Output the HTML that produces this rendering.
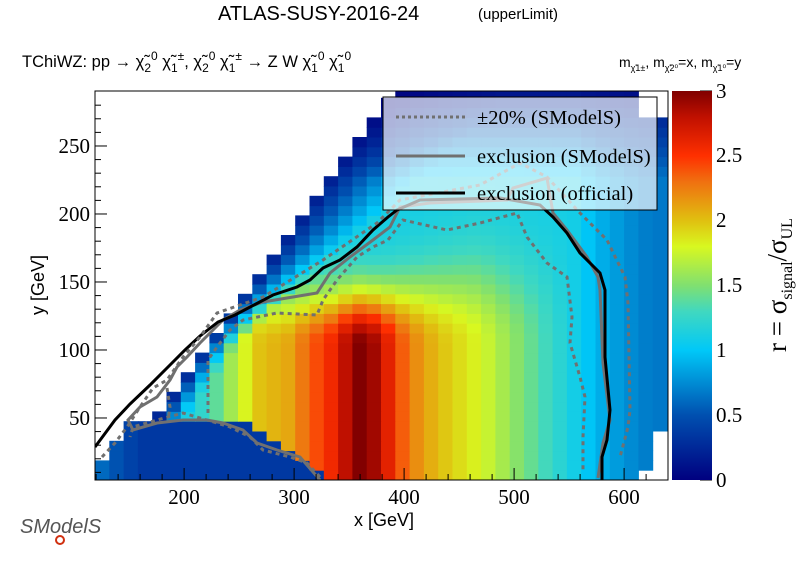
<!DOCTYPE html>
<html><head><meta charset="utf-8"><style>
html,body{margin:0;padding:0;background:#fff;}
svg text{font-family:"Liberation Sans",sans-serif;}
svg .s, svg .s text{font-family:"Liberation Serif",serif;}
</style></head><body>
<svg id="g" width="796" height="572" xmlns="http://www.w3.org/2000/svg">
<defs><linearGradient id="cb" x1="0" y1="1" x2="0" y2="0">
<stop offset="0" stop-color="#000080"/><stop offset="0.167" stop-color="#0050b0"/>
<stop offset="0.333" stop-color="#00c8f8"/><stop offset="0.433" stop-color="#40d8c0"/>
<stop offset="0.5" stop-color="#80e070"/><stop offset="0.6" stop-color="#d8f820"/>
<stop offset="0.667" stop-color="#e0c010"/><stop offset="0.767" stop-color="#f07010"/>
<stop offset="0.833" stop-color="#ff3000"/><stop offset="0.933" stop-color="#c01000"/>
<stop offset="1" stop-color="#800000"/></linearGradient>
<clipPath id="cp"><rect x="95" y="91" width="573" height="389"/></clipPath></defs>
<g id="cells" clip-path="url(#cp)"></g>
<g id="cont" clip-path="url(#cp)" fill="none"></g>
<rect x="383" y="97" width="274" height="113" fill="rgba(255,255,255,0.68)" stroke="#000" stroke-width="1"/>
<line x1="396" y1="117" x2="465" y2="117" stroke="#707070" stroke-width="3" stroke-dasharray="3,3"/>
<line x1="396" y1="156" x2="465" y2="156" stroke="#707070" stroke-width="3"/>
<line x1="396" y1="193" x2="465" y2="193" stroke="#000" stroke-width="3"/>
<text class="s" x="477" y="124" font-size="20.5">±20% (SModelS)</text>
<text class="s" x="477" y="163" font-size="20.5">exclusion (SModelS)</text>
<text class="s" x="477" y="200" font-size="20.5">exclusion (official)</text>
<rect x="95" y="91" width="573" height="389" fill="none" stroke="#000"/>
<g id="ticks" stroke="#000"></g>
<rect x="672" y="91" width="40" height="389" fill="url(#cb)"/>
<g class="s" font-size="21">
<text x="184" y="504" text-anchor="middle">200</text><text x="294" y="504" text-anchor="middle">300</text>
<text x="404" y="504" text-anchor="middle">400</text><text x="514" y="504" text-anchor="middle">500</text>
<text x="624" y="504" text-anchor="middle">600</text>
<text x="90" y="425" text-anchor="end">50</text><text x="90" y="357" text-anchor="end">100</text>
<text x="90" y="289" text-anchor="end">150</text><text x="90" y="221" text-anchor="end">200</text>
<text x="90" y="153" text-anchor="end">250</text>
<text x="716" y="487">0</text><text x="716" y="422">0.5</text><text x="716" y="357">1</text>
<text x="716" y="292">1.5</text><text x="716" y="227">2</text><text x="716" y="162">2.5</text>
<text x="716" y="98">3</text>
</g>
<text x="384" y="526" font-size="18" text-anchor="middle">x [GeV]</text>
<text x="0" y="0" font-size="18" text-anchor="middle" transform="translate(44,285) rotate(-90)">y [GeV]</text>
<text class="s" transform="translate(786,285) rotate(-90)" font-size="27" text-anchor="middle">r = σ<tspan font-size="16" dy="6">signal</tspan><tspan dy="-6">/σ</tspan><tspan font-size="16" dy="6">UL</tspan></text>
<text x="218" y="20" font-size="20">ATLAS-SUSY-2016-24</text>
<text x="478" y="19" font-size="15">(upperLimit)</text>
<text x="22" y="67" font-size="16.5">TChiWZ: pp  → χ̃<tspan font-size="12" dy="5">2</tspan><tspan font-size="12" dy="-12">0</tspan><tspan dy="7"> χ̃</tspan><tspan font-size="12" dy="5">1</tspan><tspan font-size="12" dy="-12">±</tspan><tspan dy="7">, χ̃</tspan><tspan font-size="12" dy="5">2</tspan><tspan font-size="12" dy="-12">0</tspan><tspan dy="7"> χ̃</tspan><tspan font-size="12" dy="5">1</tspan><tspan font-size="12" dy="-12">±</tspan><tspan dy="7"> → Z W  χ̃</tspan><tspan font-size="12" dy="5">1</tspan><tspan font-size="12" dy="-12">0</tspan><tspan dy="7"> χ̃</tspan><tspan font-size="12" dy="5">1</tspan><tspan font-size="12" dy="-12">0</tspan></text>
<text x="619" y="67" font-size="14">m<tspan font-size="9" dy="4">χ̃1±</tspan><tspan dy="-4">, m</tspan><tspan font-size="9" dy="4">χ̃2⁰</tspan><tspan dy="-4">=x, m</tspan><tspan font-size="9" dy="4">χ̃1⁰</tspan><tspan dy="-4">=y</tspan></text>
<text x="20" y="533" font-size="20" fill="#555" font-style="italic">SModelS</text>
<circle cx="60" cy="540" r="4" fill="none" stroke="#d03010" stroke-width="2"/>
</svg>
<script>
var NS="http://www.w3.org/2000/svg";
function el(p,t,a){var e=document.createElementNS(NS,t);for(var k in a)e.setAttribute(k,a[k]);p.appendChild(e);return e;}
var stops=[[0,[0,0,128]],[0.5,[0,80,176]],[1,[0,200,248]],[1.3,[64,216,192]],[1.5,[128,224,112]],[1.8,[216,248,32]],[2,[224,192,16]],[2.3,[240,112,16]],[2.5,[255,48,0]],[2.8,[192,16,0]],[3,[128,0,0]]];
function col(v){v=Math.max(0,Math.min(3,v));for(var i=1;i<stops.length;i++){if(v<=stops[i][0]){var a=stops[i-1],b=stops[i],t=(v-a[0])/(b[0]-a[0]);return "rgb("+[0,1,2].map(function(j){return Math.round(a[1][j]+t*(b[1][j]-a[1][j]))}).join(",")+")";}}return "rgb(128,0,0)";}
var prof=[[95,0.9],[180,1.05],[210,1.3],[240,1.75],[260,2.0],[290,2.1],[305,2.3],[330,2.55],[345,2.8],[360,3.0],[380,2.85],[395,2.45],[420,2.15],[440,2.0],[480,1.8],[500,1.65],[520,1.5],[560,1.2],[600,0.9],[640,0.7],[670,0.65]];
function gp(x){for(var i=1;i<prof.length;i++){if(x<=prof[i][0]){var a=prof[i-1],b=prof[i],t=(x-a[0])/(b[0]-a[0]);return a[1]+t*(b[1]-a[1]);}}return 0.65;}
function xsf(cy){return (cy<420)?323-(cy-185)*0.72:(cy<440?124:(cy<460?110:95));}
function val(px,py){
 var g0=gp(px), b=Math.min(g0,1.1);
 var dy=345-py, L=55+Math.max(0,Math.min(1,(px-380)/100))*30;
 var h=dy<=0?1:Math.exp(-Math.pow(dy/L,2));
 var r=b+(g0-b)*h;
 if(py<180) r*=Math.max(0.1,1-(180-py)/100);
 var dd=px-xsf(py), sc=28+Math.max(0,340-py)*0.4, f=Math.max(0,Math.min(1,dd/sc));
 r*=0.1+0.9*Math.pow(f,0.8);
 var bt=(px<250)?420:(px<300?420+(px-250)*0.7:455+(px-300)*1.2);
 if(py>bt&&px<325){r=0.35+(px<140?0.3*(140-px)/45:0);}
 return r;}
var g=document.getElementById("cells");
var cw=14.3,ch=9.8;
for(var py=480;py>91-ch;py-=ch){
 for(var px=95;px<668;px+=cw){
  var cx=px+cw/2,cy=py-ch/2;
  if(cx<xsf(cy))continue;
  if(cy<118&&cx>640)continue;
  if(cy>430&&cx>655)continue;
  if(cy>467&&cx>640)continue;
  el(g,"rect",{x:px.toFixed(1),y:(py-ch).toFixed(1),width:(cw+0.5).toFixed(1),height:(ch+0.5).toFixed(1),fill:col(val(cx,cy))});
 }}
var c=document.getElementById("cont");
function pl(pts,st){var a={points:pts,stroke:st.c,"stroke-width":st.w};if(st.d)a["stroke-dasharray"]=st.d;el(c,"polyline",a);}
var G={c:"#707070",w:3},B={c:"#000",w:3},D={c:"#707070",w:3,d:"4,4"};
pl("320,480 300,457 277,450 257,443 243,430 223,423 207,420 183,420 157,423 133,430 128,420 140,407 157,397 170,380 177,367 187,357 200,343 223,320 240,310 263,302 317,293 330,273 350,257 373,240 390,227 400,207 430,203 507,200 513,188 547,178 553,213 567,230 587,257 598,277 600,290 603,363 610,420 603,443 598,478",G);
pl("95,447 115,420 130,404 150,385 170,365 185,350 200,336 218,322 235,315 273,295 297,287 310,280 323,268 340,260 357,247 373,230 388,217 397,210 420,200 500,198 540,205 553,217 567,233 580,253 600,273 605,290 605,357 610,410 607,440 602,457 602,480",B);
pl("102,457 115,443 127,427 140,407 153,388 167,380 183,357 200,337 217,313 263,297 323,260 377,223 400,200 480,185 520,163 547,177 580,213 607,240 625,277 628,303 630,410 628,427 620,457",D);
pl("320,477 307,463 290,457 263,450 250,437 230,427 207,420 183,413 157,420 133,427 130,437",D);
pl("208,413 208,360 217,347 230,330 243,320 277,313 317,315 323,300 337,280 357,257 373,247 388,240 403,220 447,230 480,223 517,213 527,237 547,263 567,277 572,317 570,343 580,377 585,397 583,437 583,473",D);
pl("167,388 170,407 168,420",D);
var t=document.getElementById("ticks");
for(var v=120;v<=640;v+=20){var x=95+(v-119)*1.1;if(x<96||x>667)continue;var L=(v%100==0)?12:6;el(t,"line",{x1:x,y1:480,x2:x,y2:480-L});}
for(var v=10;v<=290;v+=10){var y=480-(v-4.4)*1.36;if(y<92)continue;var L=(v%50==0)?12:6;el(t,"line",{x1:95,y1:y,x2:95+L,y2:y});}
for(var k=0;k<=6;k++){var y=480-k*389/6;el(t,"line",{x1:700,y1:y,x2:712,y2:y});}
</script>
</body></html>
